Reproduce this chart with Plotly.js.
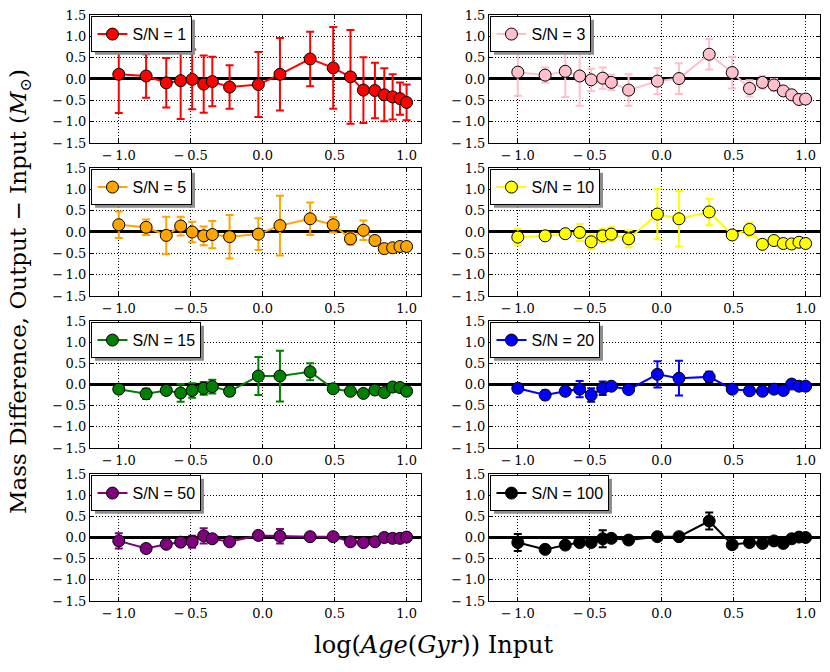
<!DOCTYPE html>
<html>
<head>
<meta charset="utf-8">
<script src="https://cdn.plot.ly/plotly-3.0.1.min.js"></script>
<style>
html, body { margin: 0; padding: 0; background: #fff; }
#plotField { width: 830px; height: 672px; }
</style>
</head>
<body>
<div id="plotField"></div>
<script>
// log(age) bins, same for every S/N panel
const logAge = [-1.0, -0.81, -0.67, -0.57, -0.49, -0.41, -0.35, -0.23, -0.03, 0.12, 0.33, 0.49, 0.61, 0.70, 0.78, 0.845, 0.903, 0.954, 1.0];

const sn1Diff = [0.11, 0.07, -0.09, -0.04, -0.01, -0.12, -0.06, -0.19, -0.13, 0.11, 0.47, 0.26, 0.05, -0.26, -0.27, -0.37, -0.42, -0.46, -0.55];
const sn1Err  = [0.91, 0.51, 0.58, 0.90, 0.70, 0.67, 0.58, 0.51, 0.76, 0.85, 0.64, 0.96, 1.10, 0.77, 0.65, 0.62, 0.53, 0.38, 0.42];

const sn3Diff = [0.16, 0.09, 0.18, 0.07, -0.02, 0.02, -0.08, -0.26, -0.05, 0.01, 0.58, 0.15, -0.22, -0.08, -0.14, -0.28, -0.37, -0.48, -0.47];
const sn3Err  = [0.55, 0.18, 0.60, 0.70, 0.26, 0.25, 0.18, 0.37, 0.31, 0.36, 0.36, 0.37, 0.19, 0.15, 0.14, 0.05, 0.05, 0.05, 0.03];

const sn5Diff = [0.17, 0.11, -0.08, 0.14, 0.0, -0.09, -0.06, -0.11, -0.05, 0.15, 0.31, 0.17, -0.16, 0.04, -0.20, -0.39, -0.37, -0.34, -0.34];
const sn5Err  = [0.31, 0.18, 0.44, 0.22, 0.24, 0.22, 0.32, 0.51, 0.37, 0.70, 0.38, 0.18, 0.14, 0.23, 0.05, 0.03, 0.03, 0.03, 0.03];

const sn10Diff = [-0.12, -0.09, -0.04, -0.01, -0.23, -0.09, -0.05, -0.16, 0.42, 0.31, 0.47, -0.07, 0.06, -0.29, -0.20, -0.27, -0.28, -0.24, -0.27];
const sn10Err  = [0.19, 0.05, 0.05, 0.20, 0.17, 0.16, 0.16, 0.20, 0.59, 0.65, 0.31, 0.04, 0.16, 0.03, 0.03, 0.03, 0.03, 0.05, 0.03];

const sn15Diff = [-0.11, -0.22, -0.14, -0.20, -0.14, -0.09, -0.05, -0.16, 0.20, 0.20, 0.30, -0.10, -0.16, -0.21, -0.13, -0.19, -0.06, -0.07, -0.16];
const sn15Err  = [0.05, 0.12, 0.05, 0.21, 0.17, 0.15, 0.16, 0.10, 0.45, 0.60, 0.20, 0.03, 0.03, 0.03, 0.03, 0.03, 0.03, 0.03, 0.03];

const sn20Diff = [-0.09, -0.25, -0.16, -0.11, -0.25, -0.09, -0.04, -0.12, 0.24, 0.15, 0.18, -0.11, -0.15, -0.16, -0.11, -0.14, 0.01, -0.04, -0.04];
const sn20Err  = [0.03, 0.10, 0.07, 0.19, 0.16, 0.16, 0.03, 0.03, 0.31, 0.41, 0.12, 0.03, 0.03, 0.03, 0.03, 0.03, 0.03, 0.03, 0.03];

const sn50Diff = [-0.08, -0.26, -0.16, -0.11, -0.10, 0.04, -0.03, -0.10, 0.05, 0.03, 0.02, 0.02, -0.10, -0.12, -0.10, 0.0, -0.02, -0.02, 0.01];
const sn50Err  = [0.18, 0.03, 0.03, 0.03, 0.14, 0.18, 0.05, 0.03, 0.07, 0.17, 0.08, 0.03, 0.03, 0.03, 0.03, 0.03, 0.03, 0.03, 0.03];

const sn100Diff = [-0.12, -0.28, -0.18, -0.12, -0.12, -0.03, -0.02, -0.06, 0.02, 0.02, 0.39, -0.17, -0.12, -0.14, -0.08, -0.14, -0.03, 0.01, 0.0];
const sn100Err  = [0.20, 0.03, 0.06, 0.03, 0.08, 0.20, 0.03, 0.03, 0.03, 0.03, 0.20, 0.03, 0.03, 0.03, 0.03, 0.03, 0.03, 0.03, 0.03];

const panelLabels = ['S/N = 1', 'S/N = 3', 'S/N = 5', 'S/N = 10', 'S/N = 15', 'S/N = 20', 'S/N = 50', 'S/N = 100'];
const panelColors = ['red', 'pink', 'orange', 'yellow', 'green', 'blue', 'purple', 'black'];
const panelDiffs = [sn1Diff, sn3Diff, sn5Diff, sn10Diff, sn15Diff, sn20Diff, sn50Diff, sn100Diff];
const panelErrs = [sn1Err, sn3Err, sn5Err, sn10Err, sn15Err, sn20Err, sn50Err, sn100Err];

const xTickVals = [-1.0, -0.5, 0.0, 0.5, 1.0];
const xTickText = ['\u2212\u20091.0', '\u2212\u20090.5', '0.0', '0.5', '1.0'];
const yTickVals = [-1.5, -1.0, -0.5, 0.0, 0.5, 1.0, 1.5];
const yTickText = ['\u2212\u20091.5', '\u2212\u20091.0', '\u2212\u20090.5', '0.0', '0.5', '1.0', '1.5'];

// grid of panels, paper coords (plot area 730 x 586 px)
var colDomains = [[0, 0.4534], [0.5466, 1]];
var rowDomains = [[0.7816, 1], [0.5205, 0.7389], [0.2611, 0.4778], [0, 0.2167]];

var tickFont = {family: 'DejaVu Serif, serif', size: 13, color: 'black'};
var data = [];
var layout = {
    width: 830,
    height: 672,
    margin: {l: 90, r: 10, t: 15, b: 71},
    paper_bgcolor: 'white',
    plot_bgcolor: 'white',
    showlegend: true,
    shapes: [],
    annotations: [
        {
            text: 'Mass Difference, Output \u2212 Input (<i>M</i><sub>\u2299</sub>)',
            xref: 'paper', yref: 'paper',
            x: -0.0959, y: 0.529,
            xanchor: 'center', yanchor: 'middle',
            textangle: -90, showarrow: false,
            font: {family: 'DejaVu Serif, serif', size: 23, color: 'black'}
        },
        {
            text: 'log(<i>Age</i>(<i>Gyr</i>)) Input',
            xref: 'paper', yref: 'paper',
            x: 0.471, y: -0.0751,
            xanchor: 'center', yanchor: 'middle',
            showarrow: false,
            font: {family: 'DejaVu Serif, serif', size: 24, color: 'black'}
        }
    ]
};

for (let i = 0; i < panelLabels.length; i++) {
    let n = i + 1;
    let suffix = n == 1 ? '' : String(n);
    let col = colDomains[i % 2];
    let row = rowDomains[Math.floor(i / 2)];
    let legendName = 'legend' + suffix;

    data.push({
        x: logAge,
        y: panelDiffs[i],
        type: 'scatter',
        mode: 'lines+markers',
        name: panelLabels[i],
        xaxis: 'x' + suffix,
        yaxis: 'y' + suffix,
        legend: legendName,
        line: {color: panelColors[i], width: 2},
        marker: {color: panelColors[i], size: 12, line: {color: 'black', width: 1}},
        error_y: {type: 'data', array: panelErrs[i], visible: true, color: panelColors[i], thickness: 2, width: 4}
    });

    layout['xaxis' + suffix] = {
        domain: col,
        anchor: 'y' + suffix,
        range: [-1.2, 1.1],
        tickvals: xTickVals,
        ticktext: xTickText,
        ticks: 'inside', ticklen: 4, tickcolor: 'black',
        showline: true, linecolor: 'black', linewidth: 1.2, mirror: 'ticks',
        showgrid: true, gridcolor: 'black', gridwidth: 1, griddash: '1px,2px',
        zeroline: false,
        tickfont: tickFont,
        fixedrange: true
    };
    layout['yaxis' + suffix] = {
        domain: row,
        anchor: 'x' + suffix,
        range: [-1.5, 1.5],
        tickvals: yTickVals,
        ticktext: yTickText,
        ticks: 'inside', ticklen: 4, tickcolor: 'black',
        showline: true, linecolor: 'black', linewidth: 1.2, mirror: 'ticks',
        showgrid: true, gridcolor: 'black', gridwidth: 1, griddash: '1px,2px',
        zeroline: true, zerolinecolor: 'black', zerolinewidth: 2.5,
        tickfont: tickFont,
        fixedrange: true
    };
    layout[legendName] = {
        x: col[0] + 0.002,
        y: row[1] - 0.002,
        xanchor: 'left', yanchor: 'top',
        bgcolor: 'white',
        bordercolor: 'black',
        borderwidth: 1,
        font: {family: 'Liberation Sans, Arial, sans-serif', size: 16, color: 'black'}
    };
}

var config = {
    responsive: false,
    displayModeBar: false
};

// gray drop shadow behind each legend box, like the matplotlib one
function addLegendShadows(gd) {
    let divBox = gd.getBoundingClientRect();
    let fs = gd._fullLayout._size;
    let shadows = [];
    gd.querySelectorAll('g[class^="legend"] rect.bg').forEach(function(bg) {
        let b = bg.getBoundingClientRect();
        let x0 = b.left - divBox.left + 3, x1 = b.right - divBox.left + 3;
        let y0 = b.top - divBox.top + 3, y1 = b.bottom - divBox.top + 3;
        shadows.push({
            type: 'rect', xref: 'paper', yref: 'paper', layer: 'above',
            x0: (x0 - fs.l) / fs.w, x1: (x1 - fs.l) / fs.w,
            y0: 1 - (y0 - fs.t) / fs.h, y1: 1 - (y1 - fs.t) / fs.h,
            fillcolor: '#8c8c8c', line: {width: 0}
        });
    });
    return Plotly.relayout(gd, {shapes: shadows});
}

Plotly.newPlot('plotField', data, layout, config).then(addLegendShadows);
</script>
</body>
</html>
